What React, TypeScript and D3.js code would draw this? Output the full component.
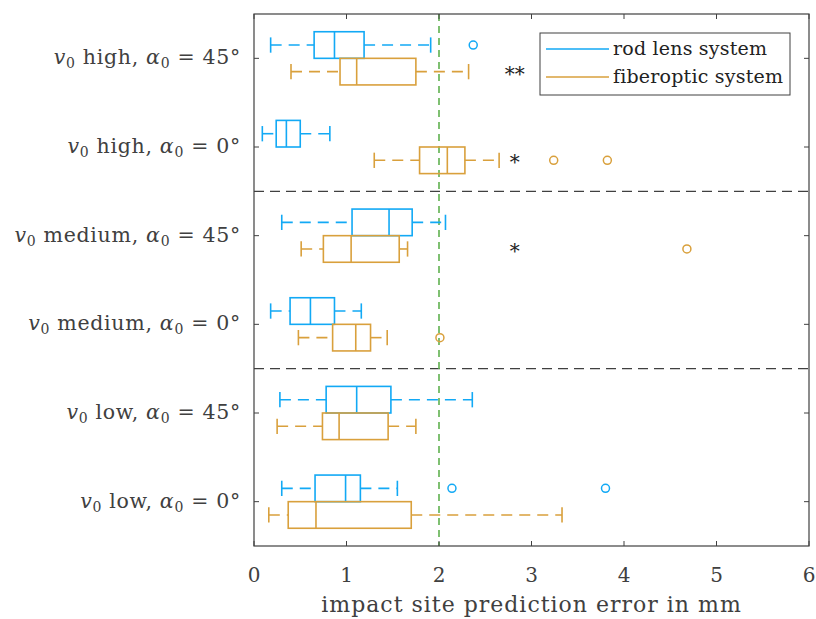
import React from 'react';
import * as d3 from 'd3';

// categories top to bottom
const speeds = ['high', 'high', 'medium', 'medium', 'low', 'low'];
const angles = [45, 0, 45, 0, 45, 0];
const categories = speeds.map((s, i) => `${s}-${angles[i]}`);

// [whisker low, q1, median, q3, whisker high]
const rodStats = [
  [0.18, 0.65, 0.87, 1.19, 1.91],
  [0.09, 0.24, 0.35, 0.5, 0.82],
  [0.3, 1.06, 1.46, 1.71, 2.07],
  [0.18, 0.39, 0.61, 0.87, 1.16],
  [0.28, 0.78, 1.11, 1.48, 2.36],
  [0.3, 0.66, 0.99, 1.15, 1.55],
];
const rodOutliers = [[2.37], [], [], [], [], [2.14, 3.8]];

const fiberStats = [
  [0.4, 0.93, 1.11, 1.75, 2.32],
  [1.3, 1.79, 2.09, 2.28, 2.65],
  [0.51, 0.75, 1.05, 1.57, 1.66],
  [0.48, 0.85, 1.1, 1.26, 1.44],
  [0.25, 0.74, 0.92, 1.45, 1.75],
  [0.16, 0.37, 0.67, 1.7, 3.33],
];
const fiberOutliers = [[], [3.24, 3.82], [4.68], [2.01], [], []];

const significance = ['**', '*', '*', '', '', ''];
const significanceX = 2.82;
const thresholdX = 2;
const separatorsAfter = [1, 3];
const xTicks = [0, 1, 2, 3, 4, 5, 6];

const W = 816;
const H = 619;
const margin = { top: 14, right: 7, bottom: 73, left: 254 };
const BLUE = '#12a9f5';
const ORANGE = '#d9a03c';
const AXIS = '#404040';
const FONT = '"DejaVu Serif", serif';

const x = d3.scaleLinear().domain([0, 6]).range([margin.left, W - margin.right]);
const y = d3.scaleBand().domain(categories).range([margin.top, H - margin.bottom]).padding(0);
const bw = y.bandwidth();

function BoxPlot({ stats, outliers, cy, color }: { stats: number[]; outliers: number[]; cy: number; color: string }) {
  const [lo, q1, med, q3, hi] = stats;
  const h = bw * 0.3;
  const cap = h / 2;
  return (
    <g stroke={color} fill="none" strokeWidth={1.6}>
      <line x1={x(lo)} x2={x(q1)} y1={cy} y2={cy} strokeDasharray="11,7" />
      <line x1={x(q3)} x2={x(hi)} y1={cy} y2={cy} strokeDasharray="11,7" />
      <line x1={x(lo)} x2={x(lo)} y1={cy - cap / 2 - 1} y2={cy + cap / 2 + 1} />
      <line x1={x(hi)} x2={x(hi)} y1={cy - cap / 2 - 1} y2={cy + cap / 2 + 1} />
      <rect x={x(q1)} y={cy - h / 2} width={x(q3) - x(q1)} height={h} />
      <line x1={x(med)} x2={x(med)} y1={cy - h / 2} y2={cy + h / 2} />
      {outliers.map((o, i) => (
        <circle key={i} cx={x(o)} cy={cy} r={4} strokeWidth={1.5} />
      ))}
    </g>
  );
}

function CatLabel({ i }: { i: number }) {
  const yc = (y(categories[i]) as number) + bw / 2;
  return (
    <text x={margin.left - 13} y={yc + 6} textAnchor="end" fontSize={20.5} letterSpacing={0.7} fill={AXIS} fontFamily={FONT}>
      <tspan fontStyle="italic">v</tspan>
      <tspan fontSize={14} dy={4}>0</tspan>
      <tspan dy={-4}>{` ${speeds[i]}, `}</tspan>
      <tspan fontStyle="italic">α</tspan>
      <tspan fontSize={14} dy={4}>0</tspan>
      <tspan dy={-4}>{` = ${angles[i]}°`}</tspan>
    </text>
  );
}

export default function App() {
  const top = margin.top;
  const bottom = H - margin.bottom;
  const left = margin.left;
  const right = W - margin.right;
  const tl = 5;
  return (
    <div style={{ position: 'absolute', left: 0, top: 0 }}>
      <svg width={W} height={H} style={{ display: 'block', background: '#fff' }}>
        {/* group separators */}
        {separatorsAfter.map((s) => {
          const yy = (y(categories[s]) as number) + bw;
          return <line key={s} x1={left} x2={right} y1={yy} y2={yy} stroke={AXIS} strokeWidth={1.3} strokeDasharray="10,6" />;
        })}
        {/* threshold */}
        <line x1={x(thresholdX)} x2={x(thresholdX)} y1={top} y2={bottom} stroke="#5fb14f" strokeWidth={1.6} strokeDasharray="7,5" />

        {categories.map((c, i) => {
          const yc = (y(c) as number) + bw / 2;
          return (
            <g key={c}>
              <BoxPlot stats={rodStats[i]} outliers={rodOutliers[i]} cy={yc - bw * 0.15} color={BLUE} />
              <BoxPlot stats={fiberStats[i]} outliers={fiberOutliers[i]} cy={yc + bw * 0.15} color={ORANGE} />
              {significance[i] && (
                <text x={x(significanceX)} y={yc + bw * 0.15 + 9} textAnchor="middle" fontSize={20} fontFamily={FONT} fill="#222">
                  {significance[i]}
                </text>
              )}
            </g>
          );
        })}

        {/* frame */}
        <rect x={left} y={top} width={right - left} height={bottom - top} fill="none" stroke={AXIS} strokeWidth={1.2} />
        {xTicks.map((t) => (
          <g key={t}>
            <line x1={x(t)} x2={x(t)} y1={bottom} y2={bottom - tl} stroke={AXIS} />
            <line x1={x(t)} x2={x(t)} y1={top} y2={top + tl} stroke={AXIS} />
            <text x={x(t)} y={bottom + 36} textAnchor="middle" fontSize={20} fill={AXIS} fontFamily={FONT}>
              {t}
            </text>
          </g>
        ))}
        {categories.map((c, i) => {
          const yc = (y(c) as number) + bw / 2;
          return (
            <g key={c}>
              <line x1={left} x2={left + tl} y1={yc} y2={yc} stroke={AXIS} />
              <line x1={right} x2={right - tl} y1={yc} y2={yc} stroke={AXIS} />
              <CatLabel i={i} />
            </g>
          );
        })}
        <text x={(left + right) / 2} y={bottom + 66} textAnchor="middle" fontSize={22} letterSpacing={1} fill={AXIS} fontFamily={FONT}>
          impact site prediction error in mm
        </text>

        {/* legend */}
        <g>
          <rect x={540} y={33} width={250} height={62} fill="#fff" stroke={AXIS} strokeWidth={1} />
          <line x1={546} x2={609} y1={49} y2={49} stroke={BLUE} strokeWidth={1.6} />
          <line x1={546} x2={609} y1={77} y2={77} stroke={ORANGE} strokeWidth={1.6} />
          <text x={613} y={55} fontSize={19} letterSpacing={0.2} fill="#222" fontFamily={FONT}>rod lens system</text>
          <text x={613} y={83} fontSize={19} letterSpacing={0.2} fill="#222" fontFamily={FONT}>fiberoptic system</text>
        </g>
      </svg>
    </div>
  );
}
